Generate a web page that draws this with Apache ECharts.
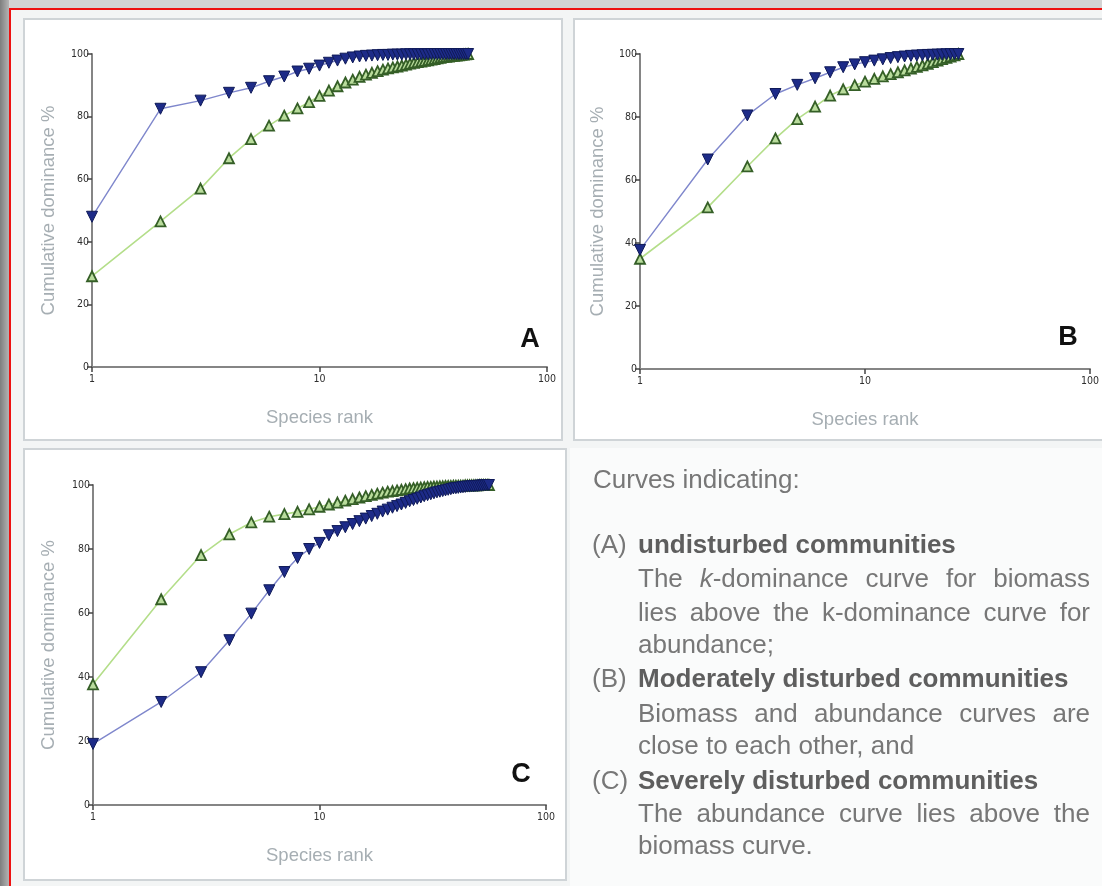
<!DOCTYPE html>
<html>
<head>
<meta charset="utf-8">
<script src="https://cdn.jsdelivr.net/npm/echarts@6/dist/echarts.min.js"></script>
<style>
  html, body { margin: 0; padding: 0; }
  body { width: 1102px; height: 886px; overflow: hidden; position: relative; background: #f3f5f5; font-family: "Liberation Sans", Arial, sans-serif; }
  .abs { position: absolute; }
  #topband { left: 0; top: 0; width: 1102px; height: 8px; background: #d3d3d3; }
  #leftband { left: 0; top: 0; width: 9px; height: 886px; background: linear-gradient(to right, #7e7e7e, #b4b4b4); }
  #redtop { left: 9px; top: 8px; width: 1093px; height: 2px; background: #ee1111; }
  #redleft { left: 9px; top: 8px; width: 2px; height: 878px; background: #ee1111; }
  .panel { background: #ffffff; border: 2px solid #cfd4d7; box-sizing: border-box; }
  #textbg { left: 570px; top: 448px; width: 532px; height: 438px; background: #fafbfb; }
  #chart { left: 0; top: 0; width: 1102px; height: 886px; }
  .txt { position: absolute; font-size: 26px; line-height: 34px; color: #777; white-space: nowrap; z-index: 5; }
  .b { font-weight: bold; color: #5e5e5e; }
  .just { white-space: normal; text-align: justify; text-align-last: justify; width: 452px; }
</style>
</head>
<body>
<div class="abs" id="topband"></div>
<div class="abs" id="leftband"></div>
<div class="abs" id="redtop"></div>
<div class="abs" id="redleft"></div>
<div class="abs" id="textbg"></div>
<div class="abs panel" style="left:23px;top:18px;width:540px;height:423px;"></div>
<div class="abs panel" style="left:573px;top:18px;width:545px;height:423px;"></div>
<div class="abs panel" style="left:23px;top:448px;width:544px;height:433px;"></div>
<div class="abs" id="chart"></div>

<div class="txt" style="left:593px;top:462px;">Curves indicating:</div>
<div class="txt" style="left:592px;top:527px;">(A)</div>
<div class="txt b" style="left:638px;top:527px;">undisturbed communities</div>
<div class="txt just" style="left:638px;top:561px;">The <i>k</i>-dominance curve for biomass</div>
<div class="txt just" style="left:638px;top:595px;">lies above the k-dominance curve for</div>
<div class="txt" style="left:638px;top:627px;">abundance;</div>
<div class="txt" style="left:592px;top:661px;">(B)</div>
<div class="txt b" style="left:638px;top:661px;">Moderately disturbed communities</div>
<div class="txt just" style="left:638px;top:696px;">Biomass and abundance curves are</div>
<div class="txt" style="left:638px;top:728px;">close to each other, and</div>
<div class="txt" style="left:592px;top:763px;">(C)</div>
<div class="txt b" style="left:638px;top:763px;">Severely disturbed communities</div>
<div class="txt just" style="left:638px;top:796px;">The abundance curve lies above the</div>
<div class="txt" style="left:638px;top:828px;">biomass curve.</div>

<script>
// ---- data (cumulative dominance %, by species rank 1..N) ----
const yTicks = [0, 20, 40, 60, 80, 100];
const xTickLabels = ['1', '10', '100'];
const panelLetters = ['A', 'B', 'C'];
const axisNameY = 'Cumulative dominance %';
const axisNameX = 'Species rank';

const biomassA = [48, 82.5, 85.1, 87.6, 89.2, 91.3, 92.8, 94.4, 95.3, 96.3,
  97.2, 97.9, 98.5, 98.9, 99.2, 99.4, 99.5, 99.6, 99.7, 99.7,
  99.8, 99.8, 99.8, 99.9, 99.9, 99.9, 99.9, 99.9, 99.9, 99.9,
  100, 100, 100, 100, 100, 100, 100, 100, 100, 100,
  100, 100, 100, 100, 100];
const abundanceA = [29, 46.5, 57, 66.7, 72.8, 77.1, 80.3, 82.6, 84.6, 86.6,
  88.3, 89.7, 90.9, 91.8, 92.7, 93.4, 94, 94.5, 95, 95.4,
  95.7, 96, 96.3, 96.6, 96.9, 97.2, 97.4, 97.6, 97.8, 98,
  98.2, 98.4, 98.6, 98.8, 99, 99.1, 99.2, 99.3, 99.4, 99.5,
  99.6, 99.7, 99.8, 99.9, 100];

const biomassB = [37.8, 66.5, 80.5, 87.3, 90.2, 92.3, 94.2, 95.8, 96.7, 97.4,
  97.9, 98.3, 98.7, 99, 99.2, 99.4, 99.5, 99.6, 99.7, 99.75,
  99.8, 99.85, 99.9, 99.95, 100, 100];
const abundanceB = [35, 51.3, 64.3, 73.2, 79.3, 83.3, 86.8, 88.8, 90.1, 91.2,
  92.1, 92.9, 93.6, 94.2, 94.8, 95.4, 95.9, 96.4, 96.9, 97.4,
  97.9, 98.4, 98.8, 99.2, 99.6, 100];

const biomassC = [19.1, 32.2, 41.5, 51.5, 59.8, 67.1, 72.8, 77.2, 80, 81.9,
  84.3, 85.6, 86.8, 87.8, 88.7, 89.5, 90.3, 91, 91.7, 92.3,
  92.9, 93.4, 93.9, 94.4, 94.9, 95.3, 95.7, 96.1, 96.5, 96.8,
  97.1, 97.4, 97.7, 97.9, 98.1, 98.3, 98.5, 98.7, 98.9, 99,
  99.1, 99.2, 99.3, 99.4, 99.5, 99.5, 99.6, 99.6, 99.7, 99.7,
  99.8, 99.8, 99.9, 99.9, 100, 100];
const abundanceC = [37.7, 64.3, 78.1, 84.6, 88.3, 90.1, 90.9, 91.6, 92.4, 93.2,
  93.9, 94.5, 95.1, 95.6, 96.1, 96.5, 96.9, 97.3, 97.6, 97.9,
  98.1, 98.3, 98.5, 98.7, 98.9, 99, 99.1, 99.2, 99.3, 99.4,
  99.4, 99.5, 99.5, 99.6, 99.6, 99.7, 99.7, 99.7, 99.8, 99.8,
  99.8, 99.8, 99.8, 99.9, 99.9, 99.9, 99.9, 99.9, 99.9, 99.9,
  100, 100, 100, 100, 100, 100];

// ---- build chart ----
const toPairs = arr => arr.map((v, i) => [i + 1, v]);

const grids = [
  { left: 92, top: 54, width: 455, height: 313 },
  { left: 640, top: 54, width: 450, height: 315 },
  { left: 93, top: 485, width: 453, height: 320 }
];
const panelData = [
  [biomassA, abundanceA],
  [biomassB, abundanceB],
  [biomassC, abundanceC]
];
const letterPos = [[530, 340], [1068, 338], [521, 775]];
const yNameGaps = [34, 33, 35];

const tickFont = '"Liberation Sans Narrow", "DejaVu Sans Condensed", sans-serif';
const nameFont = '"Liberation Sans", Arial, sans-serif';
const nameColor = '#a6aeb3';

const xAxes = grids.map((g, i) => ({
  type: 'log', logBase: 10, min: 1, max: 100, gridIndex: i,
  axisLine: { show: true, lineStyle: { color: '#858585', width: 2 } },
  axisTick: { show: true, length: 5, lineStyle: { color: '#444', width: 1.5 } },
  minorTick: { show: false },
  splitLine: { show: false },
  axisLabel: { color: '#2e2e2e', fontSize: 10.5, fontFamily: tickFont, margin: 7,
    formatter: v => xTickLabels[Math.round(Math.log10(v))] },
  name: axisNameX, nameLocation: 'middle', nameGap: 41,
  nameTextStyle: { color: nameColor, fontSize: 18.5, fontFamily: nameFont }
}));
const yAxes = grids.map((g, i) => ({
  type: 'value', min: yTicks[0], max: yTicks[yTicks.length - 1], interval: 20, gridIndex: i,
  axisLine: { show: true, lineStyle: { color: '#858585', width: 2 } },
  axisTick: { show: true, length: 5, lineStyle: { color: '#444', width: 1.5 } },
  splitLine: { show: false },
  axisLabel: { color: '#2e2e2e', fontSize: 10.5, fontFamily: tickFont, margin: 3 },
  name: axisNameY, nameLocation: 'middle', nameGap: yNameGaps[i], nameRotate: 90,
  nameTextStyle: { color: nameColor, fontSize: 18.5, fontFamily: nameFont }
}));

const series = [];
panelData.forEach((pair, i) => {
  series.push({
    type: 'line', xAxisIndex: i, yAxisIndex: i, data: toPairs(pair[1]),
    symbol: 'triangle', symbolSize: 10,
    itemStyle: { color: '#b9dc9c', borderColor: '#355f27', borderWidth: 1.8 },
    lineStyle: { color: '#b4de8a', width: 1.6 },
    z: 2
  });
  series.push({
    type: 'line', xAxisIndex: i, yAxisIndex: i, data: toPairs(pair[0]),
    symbol: 'triangle', symbolRotate: 180, symbolSize: 11,
    itemStyle: { color: '#1d2b88', borderColor: '#0f1a58', borderWidth: 1 },
    lineStyle: { color: '#7f87cc', width: 1.4 },
    z: 3
  });
});

const graphic = panelLetters.map((t, i) => ({
  type: 'text', x: letterPos[i][0], y: letterPos[i][1],
  style: { text: t, fill: '#111', font: 'bold 27px "Liberation Sans", Arial, sans-serif', align: 'center', verticalAlign: 'middle' }
}));

const chart = echarts.init(document.getElementById('chart'), null, { renderer: 'canvas' });
chart.setOption({
  animation: false,
  backgroundColor: 'transparent',
  grid: grids.map(g => Object.assign({ outerBoundsMode: 'none', containLabel: false }, g)),
  xAxis: xAxes,
  yAxis: yAxes,
  series: series,
  graphic: graphic
});
</script>
</body>
</html>
